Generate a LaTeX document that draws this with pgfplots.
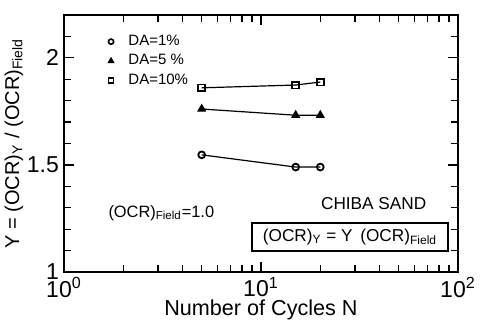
\documentclass[border=0pt]{standalone}
\usepackage{fontspec}
\setmainfont{Liberation Sans}
\usepackage{pgfplots}
\pgfplotsset{compat=1.18}
\begin{document}
\begin{tikzpicture}
\path[use as bounding box] (-32pt,-27.5pt) rectangle (209.5pt,136pt);
\begin{axis}[
  at={(0,0)}, anchor=south west,
  scale only axis, width=197pt, height=128.5pt,
  xmode=log, xmin=1, xmax=100, ymin=1, ymax=2.2,
  xtick={1,10,100},
  xticklabels={10\textsuperscript{0},10\textsuperscript{1},10\textsuperscript{2}},
  ytick={1,1.5,2}, yticklabels={1,1.5,2},
  minor ytick={1.1,1.2,1.3,1.4,1.6,1.7,1.8,1.9,2.1},
  tick align=inside, major tick length=5pt, minor tick length=3.5pt,
  xtick pos=both, ytick pos=both,
  axis line style={line width=1pt},
  every tick/.style={black, line width=0.6pt},
  tick label style={font=\fontsize{11.5}{12}\selectfont},
  yticklabel style={xshift=1pt},
  xticklabel style={yshift=1pt},
  xlabel={Number of Cycles N},
  xlabel style={font=\fontsize{10.8}{12}\selectfont, yshift=5.5pt},
  ylabel={Y = (OCR)\textsubscript{Y} / (OCR)\textsubscript{Field}},
  ylabel style={font=\fontsize{10}{11}\selectfont, yshift=-5pt},
  legend style={draw=none, fill=none, at={(rel axis cs:0.092,0.955)}, anchor=north west,
    font=\fontsize{7.5}{9}\selectfont, row sep=-1pt},
  legend cell align=left,
  legend image code/.code={\draw[#1] plot coordinates {(0pt,0pt)}; \path (-2pt,0pt) (6.5pt,0pt);},
]
\addlegendimage{only marks, mark=o, mark size=1.3pt, black, mark options={line width=0.8pt}}
\addlegendentry{DA=1\%}
\addlegendimage{only marks, mark=triangle*, mark size=1.7pt, black}
\addlegendentry{DA=5 \%}
\addlegendimage{only marks, mark=square, mark size=1.3pt, black, mark options={line width=0.8pt}}
\addlegendentry{DA=10\%}
\addplot[black, line width=0.6pt, mark=o, mark size=1.7pt, mark options={line width=0.9pt}] coordinates {(5,1.547) (15,1.49) (20,1.49)};
\addplot[black, line width=0.6pt, mark=triangle*, mark size=2.1pt] coordinates {(5,1.761) (15,1.732) (20,1.732)};
\addplot[black, line width=0.6pt, mark=square, mark size=1.7pt, mark options={line width=0.9pt}] coordinates {(5,1.86) (15,1.873) (20,1.887)};
\node[anchor=west, font=\fontsize{8.2}{10}\selectfont, inner sep=0pt] at (rel axis cs:0.112,0.23) {(OCR)\textsubscript{Field}=1.0};
\node[font=\fontsize{8.6}{10}\selectfont, inner sep=0pt] at (rel axis cs:0.786,0.268) {CHIBA SAND};
\node[draw, line width=0.6pt, font=\fontsize{8.6}{10}\selectfont, minimum width=98pt, minimum height=14pt, inner sep=2pt] at (rel axis cs:0.726,0.136) {(OCR)\textsubscript{Y} = Y \,(OCR)\textsubscript{Field}};
\end{axis}
\end{tikzpicture}
\end{document}
